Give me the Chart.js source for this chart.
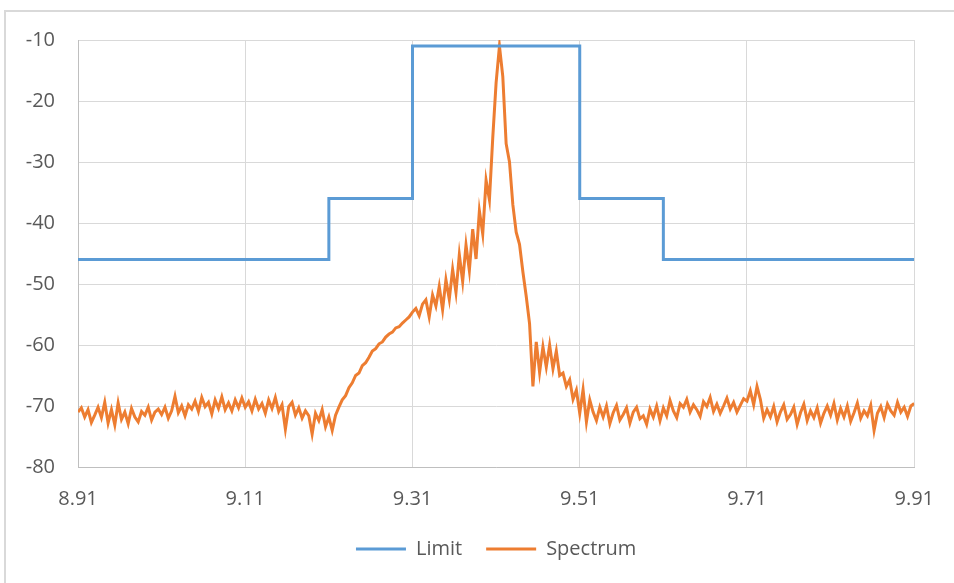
<!DOCTYPE html>
<html>
<head>
<meta charset="utf-8">
<script src="https://cdn.jsdelivr.net/npm/chart.js@4.4.1/dist/chart.umd.min.js"></script>
<style>
  html, body { margin: 0; padding: 0; background: #ffffff; }
  #wrap { position: relative; width: 954px; height: 583px; }
  #frame {
    position: absolute; left: 4px; top: 10px; right: 0; bottom: 0;
    border-top: 2px solid #d9d9d9; border-left: 2px solid #d9d9d9;
  }
  canvas { position: absolute; left: 0; top: 0; }
</style>
</head>
<body>
<div id="wrap">
  <div id="frame"></div>
  <canvas id="chart" width="954" height="583"></canvas>
</div>
<script>

// ================= DATA =================

const xTicks = [8.91, 9.11, 9.31, 9.51, 9.71, 9.91];

const limitFreq  = [8.91, 9.21, 9.21, 9.31, 9.31, 9.51, 9.51, 9.61, 9.61, 9.91];
const limitLevel = [-46, -46, -36, -36, -11, -11, -36, -36, -46, -46];

const spectrumFreq = [
    8.91, 8.914, 8.918, 8.922, 8.926, 8.93, 8.934, 8.938, 8.942, 8.946, 8.95, 8.954, 8.958, 8.962, 8.966, 8.97, 8.974, 8.978, 8.982, 8.986, 8.99, 8.994, 8.998, 9.002, 9.006,
    9.01, 9.014, 9.018, 9.022, 9.026, 9.03, 9.034, 9.038, 9.042, 9.046, 9.05, 9.054, 9.058, 9.062, 9.066, 9.07, 9.074, 9.078, 9.082, 9.086, 9.09, 9.094, 9.098, 9.102, 9.106,
    9.11, 9.114, 9.118, 9.122, 9.126, 9.13, 9.134, 9.138, 9.142, 9.146, 9.15, 9.154, 9.158, 9.162, 9.166, 9.17, 9.174, 9.178, 9.182, 9.186, 9.19, 9.194, 9.198, 9.202, 9.206,
    9.21, 9.214, 9.218, 9.222, 9.226, 9.23, 9.234, 9.238, 9.242, 9.246, 9.25, 9.254, 9.258, 9.262, 9.266, 9.27, 9.274, 9.278, 9.282, 9.286, 9.29, 9.294, 9.298, 9.302, 9.306,
    9.31, 9.314, 9.318, 9.322, 9.326, 9.33, 9.334, 9.338, 9.342, 9.346, 9.35, 9.354, 9.358, 9.362, 9.366, 9.37, 9.374, 9.378, 9.382, 9.386, 9.39, 9.394, 9.398, 9.402, 9.406,
    9.41, 9.414, 9.418, 9.422, 9.426, 9.43, 9.434, 9.438, 9.442, 9.446, 9.45, 9.454, 9.458, 9.462, 9.466, 9.47, 9.474, 9.478, 9.482, 9.486, 9.49, 9.494, 9.498, 9.502, 9.506,
    9.51, 9.514, 9.518, 9.522, 9.526, 9.53, 9.534, 9.538, 9.542, 9.546, 9.55, 9.554, 9.558, 9.562, 9.566, 9.57, 9.574, 9.578, 9.582, 9.586, 9.59, 9.594, 9.598, 9.602, 9.606,
    9.61, 9.614, 9.618, 9.622, 9.626, 9.63, 9.634, 9.638, 9.642, 9.646, 9.65, 9.654, 9.658, 9.662, 9.666, 9.67, 9.674, 9.678, 9.682, 9.686, 9.69, 9.694, 9.698, 9.702, 9.706,
    9.71, 9.714, 9.718, 9.722, 9.726, 9.73, 9.734, 9.738, 9.742, 9.746, 9.75, 9.754, 9.758, 9.762, 9.766, 9.77, 9.774, 9.778, 9.782, 9.786, 9.79, 9.794, 9.798, 9.802, 9.806,
    9.81, 9.814, 9.818, 9.822, 9.826, 9.83, 9.834, 9.838, 9.842, 9.846, 9.85, 9.854, 9.858, 9.862, 9.866, 9.87, 9.874, 9.878, 9.882, 9.886, 9.89, 9.894, 9.898, 9.902, 9.906,
    9.91
];

const spectrumLevel = [
    -71.0, -70.3, -71.8, -70.6, -72.7, -71.5, -70.2, -71.9, -69.4, -72.8, -70.6, -73.1, -69.5, -72.2, -71.0, -72.9, -70.4, -71.8, -72.6, -70.9, -71.5, -70.2, -72.3, -71.0, -70.5,
    -71.4, -70.2, -72.0, -70.8, -68.4, -71.1, -70.0, -71.6, -69.8, -70.5, -69.2, -70.9, -68.6, -70.1, -69.4, -71.3, -69.0, -70.4, -68.5, -70.6, -69.5, -70.8, -69.0, -70.3, -68.7,
    -70.2, -69.3, -70.8, -68.9, -70.5, -69.6, -71.2, -69.0, -70.4, -68.6, -70.9, -69.8, -73.8, -70.1, -69.4, -71.5, -70.3, -72.0, -70.8, -71.6, -74.6, -71.2, -72.4, -70.6, -73.4,
    -71.8, -74.0, -71.5, -70.2, -69.0, -68.3, -67.0, -66.2, -65.0, -64.6, -63.4, -62.9, -62.0, -61.0, -60.6, -59.8, -59.5, -58.7, -58.2, -57.9, -57.2, -57.0, -56.4, -55.9, -55.4,
    -54.6, -54.0, -55.2, -53.3, -52.6, -55.4, -51.8, -53.6, -50.4, -54.2, -49.3, -52.5, -47.6, -51.4, -45.2, -49.6, -43.6, -47.8, -41.0, -45.9, -38.0, -41.8, -33.0, -36.2, -26.0,
    -17.0, -11.0, -16.0, -27.0, -30.0, -37.0, -41.5, -43.5, -48.0, -52.0, -56.5, -66.8, -59.5, -64.5, -60.3, -63.6, -60.0, -63.9, -61.0, -65.0, -64.6, -66.8, -65.7, -68.9, -67.4,
    -71.2, -67.3, -72.6, -69.0, -71.0, -72.4, -70.2, -71.8, -70.0, -72.9, -71.1, -69.9, -72.3, -71.4, -70.3, -72.8, -71.0, -70.2, -72.1, -71.6, -73.0, -70.5, -71.8, -70.0, -72.4,
    -70.3, -71.6, -69.1, -70.8, -71.9, -69.6, -70.2, -68.9, -71.0, -69.8, -70.6, -71.7, -69.3, -70.1, -68.6, -70.9, -69.7, -71.2, -70.0, -68.7, -70.5, -69.4, -71.0, -69.9, -68.8,
    -69.2, -67.5, -69.8, -66.8, -68.9, -72.0, -70.6, -71.8, -70.1, -72.6, -71.0, -69.8, -72.2, -71.4, -70.2, -73.0, -71.1, -69.7, -72.4, -70.8, -71.9, -70.3, -72.8, -71.2, -70.0,
    -71.5, -69.6, -72.3, -70.4, -71.8, -70.0, -72.5, -71.1, -69.5, -72.0, -70.8, -71.6, -69.9, -74.0, -71.2, -70.1, -71.9, -69.7, -70.8, -71.5, -69.4, -71.0, -70.2, -71.7, -70.0,
    -69.6
];

// ================= CHART =================

const textColor = "#595959";
const gridColor = "#d9d9d9";
const textFont = { family: "'Open Sans', sans-serif", size: 20 };

const toPoints = (xs, ys) => xs.map((x, i) => ({ x: x, y: ys[i] }));

new Chart(
    document.getElementById("chart"),
    {
        type: "line",
        data: {
            datasets: [
                {
                    label: "Limit",
                    data: toPoints(limitFreq, limitLevel),
                    borderColor: "#5b9bd5",
                    backgroundColor: "#5b9bd5",
                    borderWidth: 3,
                    pointRadius: 0,
                    pointStyle: "line",
                    tension: 0
                },
                {
                    label: "Spectrum",
                    data: toPoints(spectrumFreq, spectrumLevel),
                    borderColor: "#ed7d31",
                    backgroundColor: "#ed7d31",
                    borderWidth: 3,
                    pointRadius: 0,
                    pointStyle: "line",
                    tension: 0
                }
            ]
        },
        options: {
            responsive: false,
            animation: false,
            layout: {
                padding: { left: 0, right: 38, top: 40, bottom: 14 }
            },
            scales: {
                x: {
                    type: "linear",
                    min: 8.91,
                    max: 9.91,
                    afterBuildTicks: scale => {
                        scale.ticks = xTicks.map(v => ({ value: v }));
                    },
                    afterFit: scale => {
                        scale.height = 48;
                    },
                    ticks: {
                        color: textColor,
                        font: textFont,
                        padding: 20,
                        maxRotation: 0,
                        callback: v => v.toFixed(2)
                    },
                    grid: { color: gridColor, lineWidth: 1, drawTicks: false },
                    border: { color: "#bfbfbf", width: 1 }
                },
                y: {
                    min: -80,
                    max: -10,
                    afterFit: scale => {
                        scale.width = 78;
                    },
                    ticks: {
                        stepSize: 10,
                        color: textColor,
                        font: textFont,
                        padding: 23
                    },
                    grid: { color: gridColor, lineWidth: 1, drawTicks: false },
                    border: { color: "#bfbfbf", width: 1 }
                }
            },
            plugins: {
                legend: {
                    position: "bottom",
                    fullSize: false,
                    labels: {
                        usePointStyle: true,
                        pointStyleWidth: 50,
                        color: textColor,
                        font: textFont,
                        padding: 24
                    }
                },
                tooltip: { enabled: false }
            }
        }
    }
);

</script>
</body>
</html>
